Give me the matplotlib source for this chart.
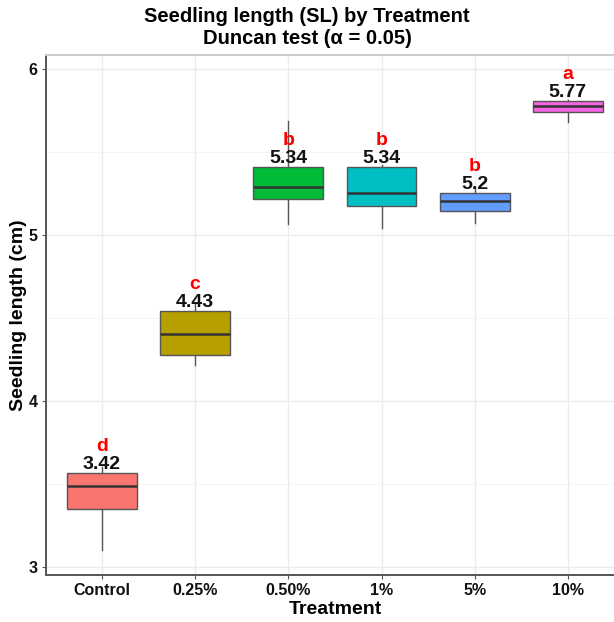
import matplotlib
matplotlib.use("Agg")
import matplotlib.pyplot as plt
import numpy as np

treatments = ["Control", "0.25%", "0.50%", "1%", "5%", "10%"]
means = ["3.42", "4.43", "5.34", "5.34", "5.2", "5.77"]
letters = ["d", "c", "b", "b", "b", "a"]
whislo = [3.10, 4.217, 5.066, 5.04, 5.072, 5.683]
q1 = [3.35, 4.277, 5.217, 5.175, 5.145, 5.741]
med = [3.488, 4.404, 5.29, 5.25, 5.207, 5.777]
q3 = [3.566, 4.544, 5.41, 5.41, 5.255, 5.807]
whishi = [3.60, 4.59, 5.687, 5.42, 5.29, 5.81]
colors = ["#F8766D", "#B79F00", "#00BA38", "#00BFC4", "#619CFF", "#F564E3"]

plt.rcParams["font.family"] = ["Liberation Sans", "DejaVu Sans"]
plt.rcParams["font.weight"] = "bold"

fig = plt.figure(figsize=(6.14, 6.22), dpi=100)
ax = fig.add_axes([46 / 614, 47 / 622, 6.2 * 93.2 / 614, 520 / 622])

stats = []
for i in range(len(treatments)):
    stats.append(dict(whislo=whislo[i], q1=q1[i], med=med[i], q3=q3[i],
                      whishi=whishi[i], fliers=[]))
pos = np.arange(1, len(treatments) + 1)
bp = ax.bxp(stats, positions=pos, widths=0.75, patch_artist=True, showcaps=False,
            boxprops=dict(edgecolor="#555555", linewidth=1.0),
            medianprops=dict(color="#333333", linewidth=1.8),
            whiskerprops=dict(color="#555555", linewidth=1.0), zorder=3)
for patch, c in zip(bp["boxes"], colors):
    patch.set_facecolor(c)

# mean value and Duncan letter above each box
for i in range(len(treatments)):
    ax.annotate(means[i], (pos[i], q3[i]), xytext=(0, 2.5), textcoords="offset points",
                ha="center", va="baseline", fontsize=14, fontweight="bold",
                color="#111111", zorder=5)
    ax.annotate(letters[i], (pos[i], q3[i]), xytext=(0, 15.5), textcoords="offset points",
                ha="center", va="baseline", fontsize=14, fontweight="bold",
                color="#FF0000", zorder=5)

ax.set_xlim(0.4, 6.6)
ax.set_ylim(2.95, 6.084)
ax.set_xticks(pos)
ax.set_xticklabels(treatments)
ax.set_yticks([3, 4, 5, 6])
ax.set_yticks([3.5, 4.5, 5.5], minor=True)
ax.grid(True, which="major", color="#EBEBEB", linewidth=1.0, zorder=0)
ax.grid(True, which="minor", axis="y", color="#F2F2F2", linewidth=0.6, zorder=0)
ax.tick_params(axis="both", which="major", length=3, color="#555555",
               labelsize=11.5, labelcolor="#111111", pad=3)
ax.tick_params(axis="y", which="minor", length=0)
for lab in ax.get_xticklabels() + ax.get_yticklabels():
    lab.set_fontweight("bold")

for s in ["left", "bottom"]:
    ax.spines[s].set_color("#555555")
    ax.spines[s].set_linewidth(1.4)
ax.spines["top"].set_color("#CCCCCC")
ax.spines["top"].set_linewidth(1.4)
ax.spines["right"].set_visible(False)

ax.set_xlabel("Treatment", fontsize=14, fontweight="bold", labelpad=2)
ax.set_ylabel("Seedling length (cm)", fontsize=14, fontweight="bold", labelpad=1)

fig.text(0.5, 1 - 17 / 622, "Seedling length (SL) by Treatment", ha="center", va="center",
         fontsize=14.5, fontweight="bold")
fig.text(0.5, 1 - 38 / 622, "Duncan test (\u03b1 = 0.05)", ha="center", va="center",
         fontsize=14.5, fontweight="bold")

fig.savefig("out.png", dpi=100)
